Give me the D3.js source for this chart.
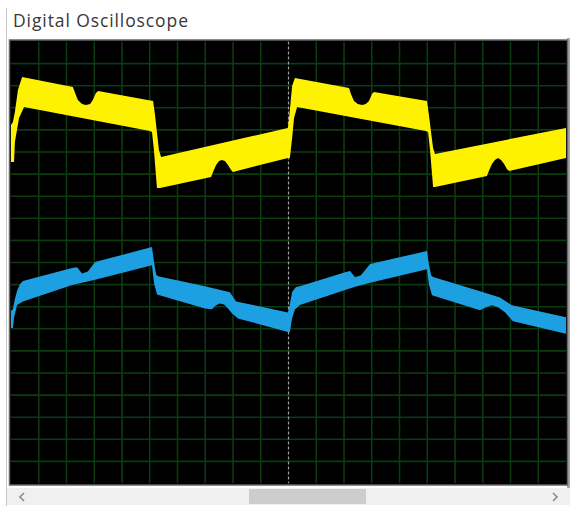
<!DOCTYPE html>
<html>
<head>
<meta charset="utf-8">
<script src="https://cdn.jsdelivr.net/npm/d3@7"></script>
<style>
  html, body { margin: 0; padding: 0; background: #ffffff; }
  svg { display: block; }
</style>
</head>
<body>
<svg id="scope" width="572" height="506"></svg>
<script>
// Window title
const title = "Digital Oscilloscope";

// Screen divisions: 20 horizontal x 20 vertical
const xDivisions = [0, 20];
const yDivisions = [-10, 10];

// Channel A (yellow) noise envelope, [time div, level div]
const yellowUpper = [
  [0,6.22],[0.07,6.36],[0.14,6.81],[0.25,7.81],[0.40,8.39],[2.23,7.94],[2.31,7.67],[2.41,7.35],
  [2.56,7.17],[2.70,7.13],[2.85,7.17],[2.95,7.35],[3.06,7.67],[3.14,7.76],[5.12,7.31],[5.19,6.67],
  [5.33,5.09],[5.41,4.77],[9.98,6.09],[10.05,6.90],[10.13,7.99],[10.23,8.35],[12.18,7.90],[12.25,7.62],
  [12.36,7.31],[12.50,7.17],[12.65,7.13],[12.79,7.17],[12.90,7.31],[13.01,7.62],[13.08,7.71],[14.99,7.31],
  [15.06,6.67],[15.21,5.18],[15.28,4.91],[20,6.09]
];
const yellowLower = [
  [0,4.55],[0.11,4.55],[0.14,5.45],[0.29,6.54],[0.47,7.04],[5.01,5.95],[5.08,5.90],[5.15,5.09],
  [5.26,3.37],[5.37,3.37],[7.21,3.87],[7.28,4.10],[7.39,4.41],[7.50,4.59],[7.60,4.64],[7.71,4.59],
  [7.82,4.41],[7.93,4.19],[8.00,4.10],[9.98,4.73],[10.05,4.73],[10.13,5.63],[10.20,6.54],[10.31,7.04],
  [14.95,5.95],[15.03,5.90],[15.10,5.09],[15.21,3.42],[15.28,3.42],[17.15,3.91],[17.22,4.14],[17.33,4.46],
  [17.44,4.64],[17.55,4.73],[17.66,4.64],[17.77,4.46],[17.87,4.23],[17.95,4.14],[20,4.73]
];

// Channel B (blue) noise envelope, [time div, level div]
const blueUpper = [
  [0,-2.20],[0.07,-2.10],[0.14,-1.65],[0.22,-1.28],[0.32,-0.98],[0.43,-0.84],[2.20,-0.25],[2.38,-0.21],
  [2.56,-0.50],[2.77,-0.41],[3.03,0.02],[5.08,0.70],[5.15,0.05],[5.23,-0.54],[5.30,-0.62],[6.99,-1.08],
  [7.89,-1.35],[8.11,-1.76],[9.98,-2.26],[10.05,-1.88],[10.13,-1.34],[10.27,-1.11],[10.41,-1.07],[12.04,-0.44],
  [12.22,-0.39],[12.40,-0.67],[12.61,-0.58],[12.94,-0.07],[14.99,0.52],[15.06,-0.08],[15.14,-0.58],[15.21,-0.66],
  [16.90,-1.30],[17.62,-1.58],[17.84,-1.76],[18.05,-1.94],[20,-2.48]
];
const blueLower = [
  [0,-2.96],[0.07,-2.96],[0.11,-2.50],[0.22,-1.92],[0.43,-1.76],[2.20,-1.02],[2.56,-0.92],[3.03,-0.78],
  [5.08,-0.12],[5.15,-0.90],[5.26,-1.45],[6.99,-2.08],[7.24,-2.12],[7.39,-1.94],[7.53,-1.85],[7.68,-1.90],
  [7.82,-2.08],[7.96,-2.30],[8.18,-2.53],[9.98,-3.14],[10.05,-3.14],[10.13,-2.52],[10.23,-2.13],[10.41,-1.92],
  [12.04,-1.24],[12.40,-1.10],[12.94,-0.92],[14.99,-0.31],[15.06,-0.98],[15.17,-1.48],[16.90,-2.16],[17.12,-2.02],
  [17.33,-1.93],[17.55,-2.02],[17.80,-2.25],[18.09,-2.66],[20,-3.22]
];

// Reference levels: trigger marker and ground marker
const triggerLevel = -2.06;
const groundLevel = -6.0;
// Time cursor at screen centre
const cursorTime = 10;

const svg = d3.select("#scope");
const W = 572, H = 506;
const plot = { left: 11, right: 566, top: 41.5, bottom: 483.5 };

const x = d3.scaleLinear().domain(xDivisions).range([plot.left, plot.right]);
const y = d3.scaleLinear().domain(yDivisions).range([plot.bottom, plot.top]);

// window frame
svg.append("rect").attr("x", 0).attr("y", 0).attr("width", W).attr("height", H).attr("fill", "#ffffff");
svg.append("line").attr("x1", 6.5).attr("x2", 6.5).attr("y1", 8).attr("y2", H)
  .attr("stroke", "#c8c8c8").attr("stroke-width", 1);
svg.append("rect").attr("x", 567).attr("y", 38).attr("width", 3).attr("height", 467).attr("fill", "#a8a8a8");

svg.append("text")
  .attr("x", 13).attr("y", 27)
  .attr("font-family", "'Open Sans', 'Noto Sans', sans-serif")
  .attr("font-size", 17.5)
  .attr("letter-spacing", 0.9)
  .attr("fill", "#383838")
  .text(title);

// screen
svg.append("rect")
  .attr("x", plot.left - 1.5).attr("y", plot.top - 1.5)
  .attr("width", plot.right - plot.left + 3).attr("height", plot.bottom - plot.top + 3)
  .attr("fill", "#000000").attr("stroke", "#666666").attr("stroke-width", 1.5);

const defs = svg.append("defs");
defs.append("filter").attr("id", "soft")
  .append("feGaussianBlur").attr("stdDeviation", 0.6);
defs.append("clipPath").attr("id", "screen")
  .append("rect").attr("x", plot.left).attr("y", plot.top)
  .attr("width", plot.right - plot.left).attr("height", plot.bottom - plot.top);

const screen = svg.append("g").attr("clip-path", "url(#screen)");

// graticule
const grid = screen.append("g").attr("filter", "url(#soft)");
grid.selectAll("line.v").data(d3.range(xDivisions[0] + 1, xDivisions[1]).filter(d => d !== cursorTime))
  .join("line").attr("class", "v")
  .attr("x1", d => x(d)).attr("x2", d => x(d))
  .attr("y1", plot.top).attr("y2", plot.bottom)
  .attr("stroke", "#0b3a0f").attr("stroke-width", 1.6);
grid.selectAll("line.h").data(d3.range(yDivisions[0] + 1, yDivisions[1]))
  .join("line").attr("class", "h")
  .attr("x1", plot.left).attr("x2", plot.right)
  .attr("y1", d => y(d)).attr("y2", d => y(d))
  .attr("stroke", "#0b3a0f").attr("stroke-width", 1.6);

// time cursor
screen.append("line")
  .attr("x1", x(cursorTime)).attr("x2", x(cursorTime))
  .attr("y1", plot.top).attr("y2", plot.bottom)
  .attr("stroke", "#a0a0a0").attr("stroke-width", 1.2)
  .attr("stroke-dasharray", "3,2");

// ground and trigger markers
screen.append("line")
  .attr("x1", plot.left).attr("x2", plot.right)
  .attr("y1", y(groundLevel)).attr("y2", y(groundLevel))
  .attr("stroke", "#157f22").attr("stroke-width", 2.2).attr("filter", "url(#soft)");
screen.append("line")
  .attr("x1", plot.left).attr("x2", plot.right)
  .attr("y1", y(triggerLevel)).attr("y2", y(triggerLevel))
  .attr("stroke", "#722c4a").attr("stroke-width", 2).attr("filter", "url(#soft)");

// traces drawn as filled envelopes
const edge = d3.line().x(d => x(d[0])).y(d => y(d[1]));
function envelope(upper, lower) {
  return edge(upper.concat(lower.slice().reverse())) + "Z";
}
screen.append("path")
  .attr("d", envelope(blueUpper, blueLower))
  .attr("fill", "#1ea0e2").attr("filter", "url(#soft)");
screen.append("path")
  .attr("d", envelope(yellowUpper, yellowLower))
  .attr("fill", "#fff200").attr("filter", "url(#soft)");

// horizontal scrollbar
const sb = svg.append("g");
sb.append("rect").attr("x", 7).attr("y", 488).attr("width", 563).attr("height", 17).attr("fill", "#f0f0f0");
sb.append("rect").attr("x", 249).attr("y", 489).attr("width", 117).attr("height", 15).attr("fill", "#cdcdcd");
sb.append("path").attr("d", "M24,493 L20,497 L24,501").attr("fill", "none")
  .attr("stroke", "#8a8a8a").attr("stroke-width", 1.6);
sb.append("path").attr("d", "M553,493 L557,497 L553,501").attr("fill", "none")
  .attr("stroke", "#8a8a8a").attr("stroke-width", 1.6);
</script>
</body>
</html>
